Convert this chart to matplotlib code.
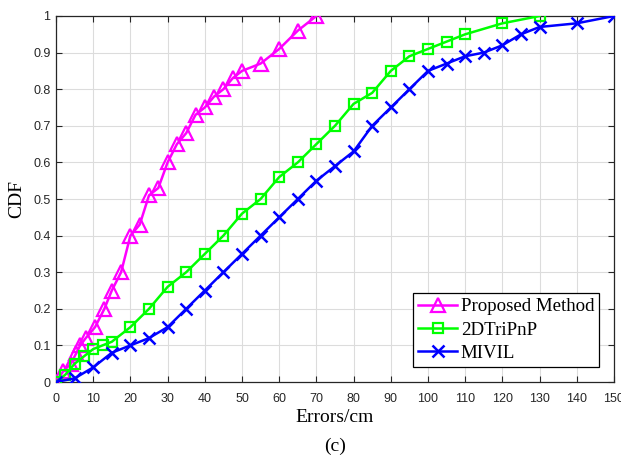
import numpy as np
import matplotlib
matplotlib.use("Agg")
import matplotlib.pyplot as plt

# CDF of localization errors
prop_x = [0, 2, 4, 5.5, 6.5, 8, 10.5, 13, 15, 17.5, 20, 22.5, 25, 27.5, 30, 32.5,
          35, 37.5, 40, 42.5, 45, 47.5, 50, 55, 60, 65, 70]
prop_y = [0, 0.03, 0.05, 0.08, 0.1, 0.12, 0.15, 0.2, 0.25, 0.3, 0.4, 0.43, 0.51,
          0.53, 0.6, 0.65, 0.68, 0.73, 0.75, 0.78, 0.8, 0.83, 0.85, 0.87, 0.91,
          0.96, 1.0]

tri_x = [0, 2.5, 5, 7.5, 10, 12.5, 15, 20, 25, 30, 35, 40, 45, 50, 55, 60, 65,
         70, 75, 80, 85, 90, 95, 100, 105, 110, 120, 130]
tri_y = [0, 0.02, 0.05, 0.07, 0.09, 0.1, 0.11, 0.15, 0.2, 0.26, 0.3, 0.35, 0.4,
         0.46, 0.5, 0.56, 0.6, 0.65, 0.7, 0.76, 0.79, 0.85, 0.89, 0.91, 0.93,
         0.95, 0.98, 1.0]

mivil_x = [0, 5, 10, 15, 20, 25, 30, 35, 40, 45, 50, 55, 60, 65, 70, 75, 80, 85,
           90, 95, 100, 105, 110, 115, 120, 125, 130, 140, 150]
mivil_y = [0, 0.01, 0.04, 0.08, 0.1, 0.12, 0.15, 0.2, 0.25, 0.3, 0.35, 0.4, 0.45,
           0.5, 0.55, 0.59, 0.63, 0.7, 0.75, 0.8, 0.85, 0.87, 0.89, 0.9, 0.92,
           0.95, 0.97, 0.98, 1.0]

x_ticks = np.arange(0, 151, 10)
y_ticks = np.round(np.arange(0, 1.01, 0.1), 1)
y_labels = ["0"] + [f"{v:.1f}" for v in y_ticks[1:-1]] + ["1"]

serif = ["Liberation Serif", "DejaVu Serif"]
sans = ["Liberation Sans", "DejaVu Sans"]

fig = plt.figure(figsize=(6.21, 4.57), dpi=100)
ax = fig.add_axes([0.0902, 0.1641, 0.8985, 0.8009])

ax.plot(prop_x, prop_y, "-^", color="#FF00FF", lw=1.8, ms=10, mfc="none",
        mew=1.6, label="Proposed Method", zorder=3)
ax.plot(tri_x, tri_y, "-s", color="#00FF00", lw=1.8, ms=7.5, mfc="none",
        mew=1.6, label="2DTriPnP", zorder=3)
ax.plot(mivil_x, mivil_y, "-x", color="#0000FF", lw=1.8, ms=9, mew=1.8,
        label="MIVIL", zorder=3)

ax.set_xlim(0, 150)
ax.set_ylim(0, 1)
ax.set_xticks(x_ticks)
ax.set_yticks(y_ticks)
ax.set_yticklabels(y_labels)
ax.tick_params(direction="in", top=True, right=True, length=4, width=0.8,
               labelsize=9, color="#262626", labelcolor="#262626")
ax.tick_params(axis="x", pad=8)
ax.tick_params(axis="y", pad=4)
for lab in ax.get_xticklabels() + ax.get_yticklabels():
    lab.set_family(sans)
ax.grid(True, color="#DCDCDC", lw=0.8)
ax.set_axisbelow(True)
for s in ax.spines.values():
    s.set_color("#262626")
    s.set_linewidth(0.9)

ax.set_xlabel("Errors/cm", family=serif, fontsize=14, labelpad=3)
ax.set_ylabel("CDF", family=serif, fontsize=14, labelpad=6)

leg = ax.legend(loc="lower right", bbox_to_anchor=(0.973, 0.042),
                prop={"family": serif, "size": 13.6}, fancybox=False,
                framealpha=1, edgecolor="black", borderpad=0.25,
                handlelength=2.05, handletextpad=0.2, labelspacing=0.32,
                borderaxespad=0)
leg.get_frame().set_linewidth(0.9)

fig.text(0.5 * (0.0902 + 0.9887), 0.024, "(c)", family=serif, fontsize=14,
         ha="center", va="center")

fig.savefig("out.png", dpi=100)
